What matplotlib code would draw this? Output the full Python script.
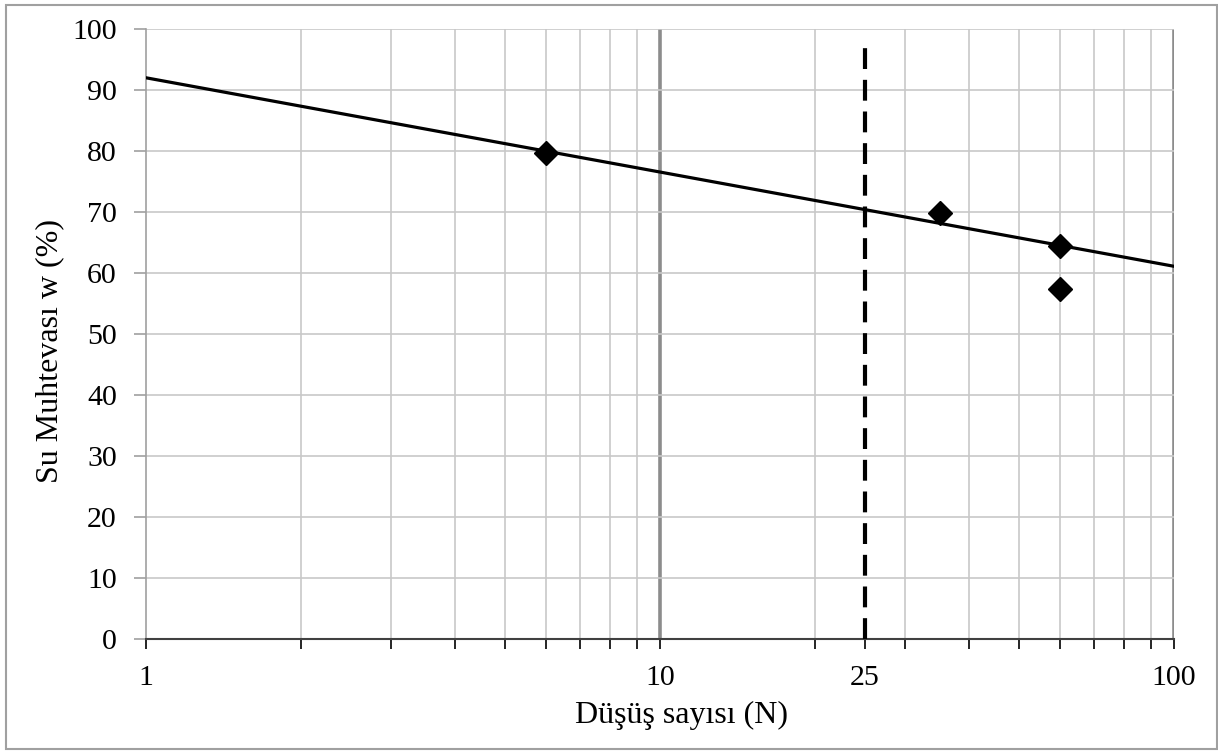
import matplotlib.pyplot as plt
from matplotlib.patches import Rectangle
from matplotlib.ticker import FixedLocator, NullFormatter

# measured points (drop count N, water content w %)
drops = [6, 35, 60, 60]
water = [79.7, 69.8, 64.4, 57.4]

# flow line end points
trend_n = [1, 100]
trend_w = [92.0, 61.1]

# 25 drop reference line
ref_n = 25
ref_top = 97

x_ticks = [1, 10, 25, 100]
x_minor = [2, 3, 4, 5, 6, 7, 8, 9, 20, 30, 40, 50, 60, 70, 80, 90]
x_major_grid = [10, 100]
y_ticks = list(range(0, 101, 10))

plt.rcParams['font.family'] = ['Liberation Serif', 'DejaVu Serif']

fig = plt.figure(figsize=(12.18, 7.51), dpi=100)
ax = fig.add_axes([0.1199, 0.1491, 0.844, 0.8123])

ax.set_xscale('log')
ax.set_xlim(1, 100)
ax.set_ylim(0, 100)

# grid
for v in x_minor:
    ax.axvline(v, color='#c8c8c8', lw=1.2, zorder=0)
for v in x_major_grid:
    ax.axvline(v, color='#8c8c8c', lw=2.6, zorder=0)
for v in y_ticks[1:]:
    ax.axhline(v, color='#c8c8c8', lw=1.2, zorder=0)

ax.plot(trend_n, trend_w, color='black', lw=2.3, zorder=3)
ax.plot(drops, water, linestyle='none', marker='D', color='black',
        markersize=12, zorder=4)

ref, = ax.plot([ref_n, ref_n], [0, ref_top], color='black', lw=3,
               zorder=3, clip_on=False)
ref.set_dashes([5, 2.6])

ax.xaxis.set_major_locator(FixedLocator(x_ticks))
ax.xaxis.set_minor_locator(FixedLocator(x_minor))
ax.xaxis.set_minor_formatter(NullFormatter())
ax.set_xticklabels([str(t) for t in x_ticks])
ax.set_yticks(y_ticks)

ax.tick_params(axis='x', which='both', direction='out', length=7, width=1.2,
               color='black', labelsize=21.5, pad=12)
ax.tick_params(axis='y', direction='out', length=9, width=1.2,
               color='#a0a0a0', labelsize=21.5, pad=12)

for s in ['top', 'right']:
    ax.spines[s].set_visible(False)
ax.spines['left'].set_color('#a0a0a0')
ax.spines['left'].set_linewidth(1.2)
ax.spines['bottom'].set_color('#404040')
ax.spines['bottom'].set_linewidth(1.5)

ax.set_xlabel('Düşüş sayısı (N)', fontsize=23, va='center')
ax.xaxis.set_label_coords(0.5204, -0.1246)
ax.set_ylabel('Su Muhtevası w (%)', fontsize=23, va='center')
ax.yaxis.set_label_coords(-0.0934, 0.472)

fig.patches.append(Rectangle((0.005, 0.003), 0.994, 0.991,
                             transform=fig.transFigure, fill=False,
                             edgecolor='#a0a0a0', lw=1.5))

fig.savefig('out.png', dpi=100)
